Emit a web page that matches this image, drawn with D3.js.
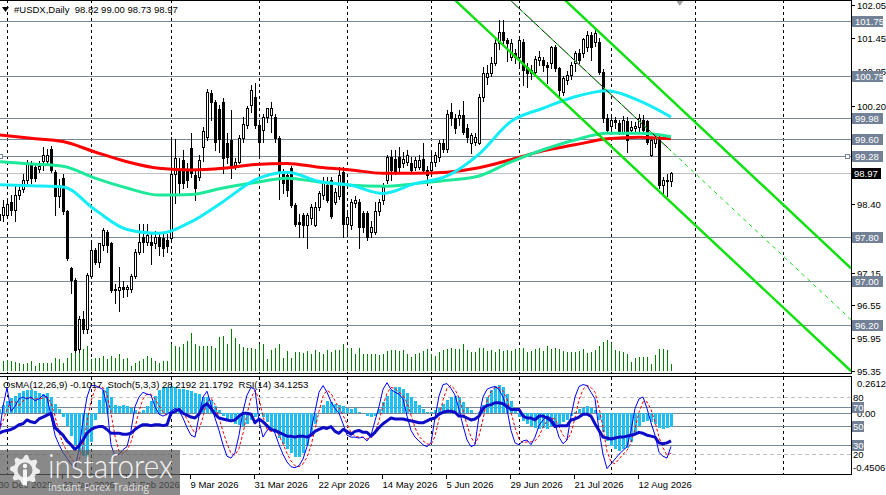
<!DOCTYPE html>
<html><head><meta charset="utf-8">
<script src="https://cdn.jsdelivr.net/npm/d3@7"></script>
<style>
html,body{margin:0;padding:0;background:#fff;overflow:hidden}
svg{display:block;font-family:"Liberation Sans",Arial,sans-serif}
</style></head><body>
<svg id="chart" width="886" height="495"></svg>
<script>
// ---------------- DATA ----------------
const headerText = "#USDX,Daily  98.82 99.00 98.73 98.97";
const indicatorHeader = "OsMA(12,26,9) -0.1017  Stoch(5,3,3) 28.2192 21.1792  RSI(14) 34.1253";
const startDate = "2025-12-30";
const holidays = ["2026-01-01"];
const dateLabelEvery = 16;

const open = [98.22,98.20,98.20,98.45,98.30,98.57,98.68,98.85,99.12,99.08,99.05,99.20,99.20,99.42,99.00,98.55,98.88,98.27,97.23,97.02,95.75,96.31,96.12,97.08,97.57,97.35,97.66,97.90,97.70,96.86,96.83,96.88,96.85,96.85,97.08,97.52,97.80,97.72,97.72,97.69,97.81,97.78,97.75,97.78,98.95,99.03,99.21,99.03,99.43,98.93,98.91,99.45,99.64,100.43,100.28,100.15,100.28,99.52,99.58,99.12,99.18,99.61,99.85,100.22,100.37,99.85,99.76,100.00,100.03,100.00,99.61,98.97,98.94,99.06,98.39,98.08,98.20,98.02,98.15,98.02,98.36,98.57,98.76,98.85,98.45,98.55,99.00,98.05,98.02,98.42,98.45,98.24,98.24,97.90,97.90,98.27,98.48,98.85,99.27,99.24,99.27,99.15,99.18,99.15,99.09,99.09,99.24,99.03,99.03,99.18,99.27,99.52,99.42,100.10,99.98,99.98,100.04,99.79,99.52,99.55,99.52,100.37,100.74,100.80,100.98,101.35,101.56,101.41,101.10,101.17,101.10,101.38,100.92,100.80,100.83,101.04,101.04,100.95,100.98,101.29,100.89,100.46,100.68,100.77,100.98,101.17,101.17,101.29,101.50,101.38,101.38,100.83,99.98,99.83,99.95,99.89,99.73,99.92,99.76,99.80,99.82,99.95,99.92,99.30,99.52,99.61,98.76,98.82,98.82];
const high = [98.35,98.48,98.50,98.58,98.75,98.72,98.95,99.22,99.20,99.15,99.20,99.45,99.42,99.46,99.03,98.86,98.95,98.30,97.25,97.05,96.35,96.45,97.15,97.75,97.60,97.70,97.96,97.93,97.72,96.95,97.25,97.00,96.92,97.12,97.58,98.05,98.05,98.05,97.85,97.92,97.88,97.90,97.85,99.63,99.60,99.25,99.40,99.15,99.70,99.05,99.30,99.82,100.52,100.50,100.32,100.22,100.35,99.70,100.13,99.25,99.67,100.00,100.20,100.58,100.62,99.90,100.05,100.17,100.28,100.05,99.65,99.05,99.00,99.10,98.42,98.22,98.25,98.25,98.40,98.45,98.65,98.91,98.91,98.91,98.70,99.09,99.09,98.25,98.50,98.55,98.50,98.27,98.27,98.10,98.45,98.50,98.80,99.30,99.40,99.40,99.45,99.36,99.40,99.27,99.27,99.30,99.52,99.10,99.40,99.36,99.58,99.60,100.12,100.25,100.05,100.12,100.30,99.88,99.70,99.70,100.42,100.92,100.95,101.10,101.47,101.78,101.78,101.45,101.42,101.25,101.45,101.42,100.98,100.95,101.12,101.20,101.10,101.00,101.30,101.32,100.92,100.75,100.85,101.00,101.20,101.25,101.45,101.58,101.55,101.59,101.45,100.88,100.05,100.00,100.00,99.95,100.02,100.00,99.92,99.90,100.05,100.03,99.95,99.62,99.65,99.65,98.90,98.95,99.00];
const low = [97.95,98.10,98.15,98.20,98.10,98.50,98.62,98.80,98.80,98.82,99.00,99.03,99.15,99.00,98.20,98.35,98.22,97.38,96.77,95.70,95.70,96.05,96.05,97.05,97.30,97.25,97.56,97.53,96.80,96.60,96.45,96.70,96.72,96.80,97.05,97.50,97.52,97.65,97.30,97.60,97.48,97.45,97.52,97.72,98.42,98.60,98.70,98.72,98.90,98.48,98.85,99.20,99.58,99.95,99.40,99.35,98.97,99.15,98.88,99.05,99.15,99.55,99.80,100.10,99.80,99.27,99.55,99.90,99.73,99.55,98.50,98.60,98.55,98.35,98.00,97.80,97.80,97.60,98.05,98.00,98.30,98.50,98.45,98.15,98.40,98.50,97.81,97.85,97.95,98.35,97.60,97.90,97.75,97.80,97.85,98.20,98.40,98.80,98.85,98.95,98.97,99.09,99.12,98.98,99.03,99.05,98.98,98.75,98.98,99.10,99.20,99.35,99.35,99.85,99.70,99.85,99.68,99.55,99.34,99.48,99.50,100.30,100.60,100.75,100.95,101.25,101.30,101.02,101.05,100.98,100.95,100.58,100.55,100.70,100.75,100.95,100.85,100.62,100.90,100.85,100.35,100.40,100.60,100.70,100.85,100.98,101.10,101.20,101.05,101.30,100.78,99.90,99.70,99.75,99.80,99.68,99.68,99.36,99.70,99.72,99.75,99.70,99.50,99.28,99.45,98.70,98.55,98.55,98.73];
const close = [98.12,98.35,98.40,98.30,98.57,98.66,98.85,99.15,98.88,98.88,99.11,99.30,99.30,99.03,98.55,98.76,98.27,97.42,97.02,95.73,96.31,96.12,97.10,97.56,97.35,97.69,97.93,97.66,96.83,96.83,96.88,96.86,96.88,97.08,97.53,97.72,97.72,97.84,97.66,97.81,97.63,97.60,97.63,98.95,99.25,98.80,98.80,98.85,98.97,98.70,99.21,99.75,100.46,100.28,99.55,99.60,99.25,99.27,99.09,99.18,99.61,99.88,100.16,100.49,99.85,99.55,100.00,100.16,100.16,99.61,98.97,98.79,98.66,98.39,98.05,98.05,98.02,98.20,98.36,98.36,98.60,98.79,98.48,98.18,98.63,98.94,98.05,98.17,98.45,98.48,97.99,97.99,97.81,97.99,98.27,98.45,98.72,99.27,99.03,98.99,99.09,99.24,99.30,99.03,99.21,99.21,99.03,98.94,99.18,99.30,99.52,99.42,100.05,99.98,99.79,100.04,99.73,99.64,99.67,99.64,100.37,100.80,100.80,100.98,101.35,101.56,101.41,101.35,101.35,101.10,101.41,100.86,100.80,100.86,101.07,101.10,100.95,100.92,101.29,100.89,100.50,100.71,100.77,100.95,101.18,101.04,101.42,101.50,101.29,101.53,100.83,99.98,99.76,99.95,99.90,99.73,99.95,99.58,99.82,99.83,99.98,99.76,99.55,99.58,99.61,98.76,98.85,98.85,98.97];
// tick volume, thousands
const volume = [8,10,11,10,9,8,7,8,10,5,8,8,8,8,13,12,8,13,18,18,20,22,25,12,13,13,15,12,15,13,17,12,13,5,8,10,12,15,13,10,8,10,10,27,25,24,27,30,38,27,25,25,25,25,23,34,35,27,42,33,27,24,23,23,22,27,27,12,21,23,27,13,20,13,19,19,18,20,17,21,19,17,21,19,21,21,27,23,23,17,23,17,17,17,17,16,17,20,21,21,20,21,17,14,17,18,20,22,17,15,19,21,22,23,22,22,27,21,19,19,23,23,20,21,19,22,20,21,20,22,22,23,19,20,22,23,20,25,22,23,22,20,19,19,19,20,22,18,19,21,25,29,31,28,21,20,19,17,9,13,14,14,14,7,16,22,22,21,7];

// moving averages, one value every maStep bars
const maStep = 8;
const maRed = [99.67,99.61,99.55,99.36,99.18,99.06,99.03,99.06,99.13,99.15,99.08,99.03,98.97,98.97,98.99,99.07,99.22,99.38,99.49,99.60,99.63,99.60];
const maGreen = [99.18,99.14,99.10,98.88,98.70,98.57,98.58,98.70,98.80,98.88,98.81,98.75,98.73,98.78,98.84,98.92,99.18,99.40,99.58,99.70,99.70,99.64];
const maCyan = [98.76,98.74,98.72,98.30,97.94,97.87,98.08,98.45,98.85,98.99,98.82,98.75,98.60,98.78,98.92,99.32,99.92,100.16,100.37,100.48,100.30,100.00];

const levels = [101.75, 100.75, 99.98, 99.60, 99.28, 97.80, 97.00, 96.20];
const selectedLevel = 99.28;
const priceTicks = [102.05, 101.45, 100.85, 100.20, 99.60, 99.00, 98.40, 97.80, 97.15, 96.55, 95.95, 95.35];

// equidistant channel (bar index, price)
const channelBars = [100, 213];
const channelLower = [103.10, 95.35];
const channelUpper = [104.99, 97.23];
const channelMiddle = [104.05, 96.29];

const osma = [.03,.06,.09,.11,.13,.15,.16,.17,.17,.16,.15,.14,.15,.12,.07,.03,-.03,-.10,-.17,-.24,-.29,-.32,-.33,-.22,-.05,.10,.17,.19,.12,.06,.05,.06,.05,.04,.02,.01,.02,.05,.09,.13,.17,.19,.19,.20,.19,.18,.18,.17,.16,.15,.14,.12,.12,.10,.05,.02,-.02,-.05,-.07,-.08,-.09,-.10,-.08,-.05,-.03,-.01,-.03,-.07,-.11,-.15,-.19,-.23,-.27,-.30,-.33,-.33,-.30,-.25,-.17,-.08,0,.06,.09,.08,.07,.06,.05,.04,.03,.04,.01,0,-.02,-.03,-.02,.03,.08,.13,.17,.19,.19,.18,.15,.12,.09,.06,.03,.01,.01,.02,.04,.07,.10,.12,.13,.12,.08,.04,.02,0,.01,.06,.12,.17,.20,.21,.19,.14,.09,.04,-.03,-.06,-.08,-.10,-.11,-.12,-.11,-.12,-.10,-.09,-.08,-.07,-.05,-.02,.01,.03,.04,.05,.04,.02,-.05,-.14,-.21,-.25,-.27,-.28,-.27,-.26,-.22,-.16,-.10,-.07,-.06,-.07,-.08,-.11,-.12,-.11,-.1017];
const stochMain = [40,70,90,65,70,78,80,78,80,76,78,82,80,60,40,30,22,16,10,6,25,55,80,92,92,90,88,70,30,18,20,25,28,45,70,80,85,83,82,70,62,60,62,65,68,66,58,48,40,38,60,80,86,72,58,45,30,18,16,22,40,65,82,90,88,55,38,45,48,42,30,20,12,7,6,8,15,28,45,65,85,92,85,75,68,63,52,40,38,38,37,38,34,40,55,70,88,95,88,85,83,78,60,45,38,34,30,28,32,58,81,93,94,89,82,67,50,35,28,30,60,80,88,90,91,88,80,67,45,32,30,34,35,30,38,50,56,60,58,52,38,31,35,60,80,91,93,92,85,78,45,20,5,10,15,20,24,28,45,68,78,80,68,53,40,22,18,16,28.22];
const stochSignal = [45,55,67,75,75,71,76,79,79,78,78,79,80,74,60,43,31,23,16,11,14,29,53,76,88,91,90,83,63,39,23,21,24,33,48,65,78,83,83,78,71,64,61,62,65,66,64,57,49,42,46,59,75,79,72,58,44,31,21,19,26,42,62,79,87,78,60,46,44,45,40,31,21,13,8,7,10,17,29,46,65,81,87,84,76,69,61,52,43,39,38,38,36,37,43,55,71,84,90,89,85,82,74,61,48,39,34,31,30,39,57,77,89,92,88,79,66,51,38,31,39,57,76,86,90,90,86,78,64,48,36,32,33,33,34,39,48,55,58,57,49,40,35,42,58,77,88,92,90,85,69,48,23,12,10,15,20,24,32,47,64,75,75,67,54,38,27,19,21.18];
const rsi = [42,44,45,46,48,51,52,56,54,53,57,59,61,63,48,44,40,34,30,25,29,35,42,46,48,49,49,46,42,42,42,41,41,42,46,49,51,51,50,51,51,50,51,63,65,67,63,61,59,58,62,70,73,68,62,58,57,56,55,56,60,63,63,62,53,57,54,50,46,45,43,41,39,39,38,39,39,38,40,44,46,48,47,49,44,42,46,44,41,44,45,43,43,39,43,48,52,55,58,57,57,57,56,55,54,53,53,55,57,58,62,64,65,65,64,60,60,58,56,57,60,68,71,72,74,74,73,70,67,67,67,60,58,58,56,60,60,58,55,49,50,50,50,56,57,59,62,62,60,52,45,38,37,36,37,38,38,39,40,41,43,42,40,39,38,32,31,32,34.13];

const subDashedLevels = [80, 20];
const subSolidLevels = [70, 50, 30];

// ---------------- DRAWING ----------------
const svg = d3.select("#chart");
const axisX = 851;
const mainBottom = 374, subTop = 377, subBottom = 474;

const x = d3.scaleLinear().domain([0, 213]).range([-1, axisX]);
const y = d3.scaleLinear().domain([95.35, 102.05]).range([371, 5]);
const yVol = d3.scaleLinear().domain([0, 100]).range([371, 271]);
const yPct = d3.scaleLinear().domain([0, 100]).range([473.4, 377.9]);
const yOsma = d3.scaleLinear().domain([-0.4506, 0.2612]).range([473.4, 377.9]);
const px = v => Math.round(v) + 0.5;

// trading calendar
const parse = d3.utcParse("%Y-%m-%d");
const key = d3.utcFormat("%Y-%m-%d");
const days = [];
for (let d = parse(startDate); days.length <= 213; d = d3.utcDay.offset(d, 1)) {
  const wd = d.getUTCDay();
  if (wd !== 0 && wd !== 6 && !holidays.includes(key(d))) days.push(d);
}
const nBars = close.length;
const last = nBars - 1;

const defs = svg.append("defs");
defs.append("clipPath").attr("id", "clipMain").append("rect").attr("x", 0).attr("y", 1).attr("width", axisX).attr("height", mainBottom - 1);
defs.append("clipPath").attr("id", "clipSub").append("rect").attr("x", 0).attr("y", subTop).attr("width", axisX).attr("height", subBottom - subTop);

const main = svg.append("g").attr("clip-path", "url(#clipMain)");
const sub = svg.append("g").attr("clip-path", "url(#clipSub)");

// month separators
const monthStarts = d3.range(1, days.length).filter(i => days[i].getUTCMonth() !== days[i - 1].getUTCMonth());
[[main, 0, mainBottom], [sub, subTop, subBottom]].forEach(([g, a, b]) => {
  g.selectAll(null).data(monthStarts).join("line")
    .attr("x1", i => px(x(i))).attr("x2", i => px(x(i)))
    .attr("y1", a).attr("y2", b)
    .attr("stroke", "#000").attr("stroke-width", 1).attr("stroke-dasharray", "3,3")
    .attr("shape-rendering", "crispEdges");
});

// level lines
main.selectAll(null).data(levels).join("line")
  .attr("x1", 0).attr("x2", axisX)
  .attr("y1", v => px(y(v))).attr("y2", v => px(y(v)))
  .attr("stroke", "#778899").attr("shape-rendering", "crispEdges");
main.append("line").attr("x1", 0).attr("x2", axisX)
  .attr("y1", px(y(close[last]))).attr("y2", px(y(close[last])))
  .attr("stroke", "#c0c0c0").attr("shape-rendering", "crispEdges");

// volume
main.selectAll(null).data(volume).join("line")
  .attr("x1", (v, i) => px(x(i))).attr("x2", (v, i) => px(x(i)))
  .attr("y1", yVol(0)).attr("y2", v => yVol(v))
  .attr("stroke", "#008000").attr("shape-rendering", "crispEdges");

// candles
const cg = main.append("g").attr("shape-rendering", "crispEdges");
d3.range(nBars).forEach(i => {
  const cx = px(x(i));
  cg.append("line").attr("x1", cx).attr("x2", cx).attr("y1", Math.round(y(high[i]))).attr("y2", Math.round(y(low[i])) + 1).attr("stroke", "#000");
  const top = Math.round(y(Math.max(open[i], close[i])));
  const bot = Math.round(y(Math.min(open[i], close[i])));
  const bull = close[i] >= open[i];
  cg.append("rect").attr("x", cx - 1).attr("y", top + 0.5).attr("width", 2).attr("height", Math.max(0, bot - top))
    .attr("fill", bull ? "#fff" : "#000").attr("stroke", "#000").attr("stroke-width", 1);
});

// moving averages
const maLine = d3.line().x((v, k) => x(k * maStep)).y(v => y(v)).curve(d3.curveMonotoneX);
[[maRed, "#ff0000"], [maGreen, "#1ee89a"], [maCyan, "#14ecf8"]].forEach(([arr, col]) => {
  main.append("path").attr("d", maLine(arr)).attr("fill", "none").attr("stroke", col).attr("stroke-width", 3).attr("stroke-linejoin", "round");
});

// channel
const chLine = arr => d3.line()(channelBars.map((b, k) => [x(b), y(arr[k])]));
[channelLower, channelUpper].forEach(arr => {
  main.append("path").attr("d", chLine(arr)).attr("stroke", "#12e012").attr("stroke-width", 2.5).attr("fill", "none");
});
const midAt = d3.scaleLinear().domain(channelBars).range(channelMiddle);
main.append("line").attr("x1", x(channelBars[0])).attr("y1", y(channelMiddle[0]))
  .attr("x2", x(last)).attr("y2", y(midAt(last))).attr("stroke", "#000").attr("stroke-width", 1);
main.append("path").attr("d", chLine(channelMiddle)).attr("stroke", "#12e012").attr("stroke-width", 1).attr("stroke-dasharray", "4,4").attr("fill", "none");

// selected level anchors
[1, axisX - 3].forEach(xx => {
  main.append("rect").attr("x", xx - 2.5).attr("y", px(y(selectedLevel)) - 2).attr("width", 4).attr("height", 4)
    .attr("fill", "#fff").attr("stroke", "#778899");
});

// header
svg.append("path").attr("d", "M2,7L9,7L5.5,12Z").attr("fill", "#000");
svg.append("text").attr("x", 14).attr("y", 12.5).attr("font-size", "9.5px").attr("fill", "#000").attr("xml:space", "preserve").text(headerText);

// chart-shift marker
svg.append("path").attr("d", `M${x(last + 2.2) - 4},0L${x(last + 2.2) + 4},0L${x(last + 2.2)},6Z`).attr("fill", "#a0a0a0");

// ---------- sub window ----------
sub.selectAll(null).data(subDashedLevels).join("line")
  .attr("x1", 0).attr("x2", axisX).attr("y1", v => px(yPct(v))).attr("y2", v => px(yPct(v)))
  .attr("stroke", "#c0c0c0").attr("stroke-dasharray", "4,3").attr("shape-rendering", "crispEdges");
sub.selectAll(null).data(subSolidLevels).join("line")
  .attr("x1", 0).attr("x2", axisX).attr("y1", v => px(yPct(v))).attr("y2", v => px(yPct(v)))
  .attr("stroke", "#778899").attr("shape-rendering", "crispEdges");
sub.append("line").attr("x1", 0).attr("x2", axisX).attr("y1", px(yOsma(0))).attr("y2", px(yOsma(0)))
  .attr("stroke", "#778899").attr("shape-rendering", "crispEdges");

sub.selectAll(null).data(osma).join("rect")
  .attr("x", (v, i) => Math.round(x(i)) - 1).attr("width", 3)
  .attr("y", v => Math.min(yOsma(v), yOsma(0))).attr("height", v => Math.abs(yOsma(v) - yOsma(0)))
  .attr("fill", "#1fbff2").attr("shape-rendering", "crispEdges");

const pctLine = d3.line().x((v, i) => x(i)).y(v => yPct(v));
sub.append("path").attr("d", pctLine(stochSignal)).attr("fill", "none").attr("stroke", "#ff0000").attr("stroke-width", 1).attr("stroke-dasharray", "3,2");
sub.append("path").attr("d", pctLine(stochMain)).attr("fill", "none").attr("stroke", "#0000ff").attr("stroke-width", 1);
sub.append("path").attr("d", pctLine(rsi)).attr("fill", "none").attr("stroke", "#0b0bc8").attr("stroke-width", 3).attr("stroke-linejoin", "round");

svg.append("text").attr("x", 3).attr("y", 387.5).attr("font-size", "9.5px").attr("fill", "#000").attr("xml:space", "preserve").text(indicatorHeader);

// ---------- frames ----------
const fr = svg.append("g").attr("stroke", "#000").attr("shape-rendering", "crispEdges");
fr.append("line").attr("x1", 0).attr("x2", axisX + 1).attr("y1", 0.5).attr("y2", 0.5);
fr.append("line").attr("x1", 0).attr("x2", axisX + 1).attr("y1", 373.5).attr("y2", 373.5);
fr.append("line").attr("x1", 0).attr("x2", axisX + 1).attr("y1", 376.5).attr("y2", 376.5);
fr.append("line").attr("x1", 0).attr("x2", axisX + 1).attr("y1", 474.5).attr("y2", 474.5);
fr.append("line").attr("x1", axisX + 0.5).attr("x2", axisX + 0.5).attr("y1", 0).attr("y2", 374);
fr.append("line").attr("x1", axisX + 0.5).attr("x2", axisX + 0.5).attr("y1", 376).attr("y2", 475);

// price axis (labels hidden behind level boxes are not drawn)
const boxed = levels.concat([close[last]]);
const ax = svg.append("g").attr("font-size", "9.5px");
priceTicks.forEach(v => {
  const yy = px(y(v));
  ax.append("line").attr("x1", axisX).attr("x2", axisX + 4).attr("y1", yy).attr("y2", yy).attr("stroke", "#000").attr("shape-rendering", "crispEdges");
  if (!boxed.some(l => Math.abs(y(l) - y(v)) < 4))
    ax.append("text").attr("x", 857).attr("y", yy).attr("dy", "0.35em").attr("fill", "#000").text(d3.format(".2f")(v));
});
levels.forEach(v => {
  const yy = Math.round(y(v));
  ax.append("rect").attr("x", 852).attr("y", yy - 5).attr("width", 31).attr("height", 11).attr("fill", "#738196");
  ax.append("text").attr("x", 855).attr("y", yy + 0.5).attr("dy", "0.35em").attr("fill", "#fff").text(d3.format(".2f")(v));
});
{
  const yy = Math.round(y(close[last]));
  ax.append("rect").attr("x", 852).attr("y", yy - 5).attr("width", 29).attr("height", 11).attr("fill", "#000");
  ax.append("text").attr("x", 854).attr("y", yy + 0.5).attr("dy", "0.35em").attr("fill", "#fff").text(d3.format(".2f")(close[last]));
}

// sub axis labels
const sa = svg.append("g").attr("font-size", "9.5px");
sa.append("text").attr("x", 857).attr("y", yOsma(0.2612) + 6).attr("dy", "0.35em").text("0.2612");
sa.append("text").attr("x", 857).attr("y", yOsma(0) + 0.5).attr("dy", "0.35em").text("0.00");
sa.append("text").attr("x", 853).attr("y", yOsma(-0.4506) - 5.5).attr("dy", "0.35em").text("-0.4506");
subDashedLevels.forEach(v => sa.append("text").attr("x", 853).attr("y", yPct(v) + 0.5).attr("dy", "0.35em").text(v));
subSolidLevels.forEach(v => {
  const yy = Math.round(yPct(v));
  sa.append("rect").attr("x", 852).attr("y", yy - 5).attr("width", 12).attr("height", 11).attr("fill", "#738196");
  sa.append("text").attr("x", 853).attr("y", yy + 0.5).attr("dy", "0.35em").attr("fill", "#fff").text(v);
});

// time axis
const fmtDate = d3.utcFormat("%-d %b %Y");
const labelIdx = d3.range(0, nBars, dateLabelEvery);
const ta = svg.append("g").attr("font-size", "9.5px");
labelIdx.forEach(i => {
  const xx = px(x(i) - 1);
  ta.append("line").attr("x1", xx).attr("x2", xx).attr("y1", 474).attr("y2", 479).attr("stroke", "#000").attr("shape-rendering", "crispEdges");
  ta.append("text").attr("x", x(i) - 0.5).attr("y", 487.5).attr("fill", "#000").text(fmtDate(days[i]));
});

// watermark
const wm = svg.append("g");
wm.append("rect").attr("x", 0).attr("y", 450).attr("width", 180).attr("height", 45).attr("fill", "rgba(92,92,92,0.72)");
const gcx = 25, gcy = 470, rO = 15, rI = 11.5, teeth = 8;
const gearPts = [];
for (let k = 0; k < teeth * 4; k++) {
  const a = (k / (teeth * 4)) * 2 * Math.PI;
  const r = (k % 4 < 2) ? rO : rI;
  gearPts.push([gcx + r * Math.sin(a), gcy - r * Math.cos(a)]);
}
wm.append("path").attr("d", d3.line().curve(d3.curveLinearClosed)(gearPts)).attr("fill", "rgba(255,255,255,0.85)");
wm.append("circle").attr("cx", gcx).attr("cy", gcy).attr("r", 7.5).attr("fill", "#8c8c8c");
wm.append("circle").attr("cx", gcx).attr("cy", gcy - 4).attr("r", 2.2).attr("fill", "rgba(255,255,255,0.9)");
wm.append("rect").attr("x", gcx - 2).attr("y", gcy - 0.5).attr("width", 4).attr("height", 16).attr("fill", "rgba(255,255,255,0.9)");
wm.append("text").attr("x", 48).attr("y", 478).attr("font-family", "Lato, 'Open Sans', sans-serif").attr("font-weight", 300)
  .attr("font-size", "33px").attr("fill", "rgba(255,255,255,0.92)").attr("textLength", 125).attr("lengthAdjust", "spacingAndGlyphs").text("instaforex");
wm.append("text").attr("x", 48).attr("y", 491).attr("font-family", "'Open Sans', sans-serif")
  .attr("font-size", "11.5px").attr("fill", "rgba(235,235,235,0.92)").attr("textLength", 101).attr("lengthAdjust", "spacingAndGlyphs").text("Instant Forex Trading");
</script>
</body></html>
